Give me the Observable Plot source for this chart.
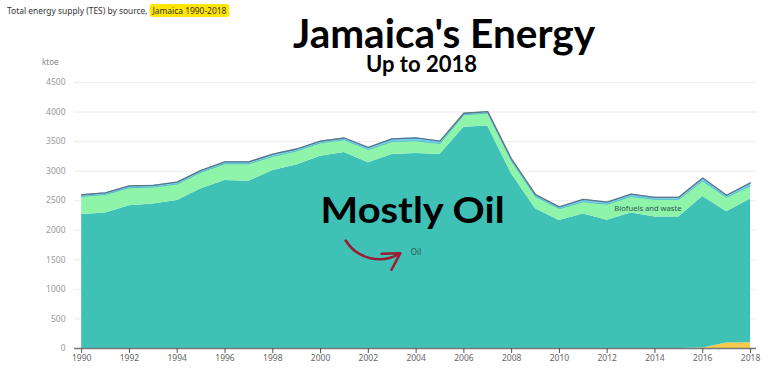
<!DOCTYPE html>
<html>
<head>
<meta charset="utf-8">
<script src="https://cdn.jsdelivr.net/npm/d3@7"></script>
<script src="https://cdn.jsdelivr.net/npm/@observablehq/plot@0.6"></script>
<style>
  html, body { margin: 0; padding: 0; background: #fff; }
  #wrap { position: relative; width: 768px; height: 375px; overflow: hidden; }
  #chart { position: absolute; left: 0; top: 0; }
  .abs { position: absolute; white-space: nowrap; transform-origin: left top; }
  #hdr { left: 7px; top: 5px; font: 9.5px "Noto Sans", sans-serif; color: #333; line-height: 12px; }
  #hdr .hl { background: #ffe600; border-radius: 3px; padding: 0 3px; }
  #t1 { font: 700 40px Lato, sans-serif; line-height: 34px; color: #000; }
  #t2 { font: 700 22px Lato, sans-serif; line-height: 18px; color: #000; }
  #ktoe { left: 42px; top: 56px; font: 8px "Noto Sans", sans-serif; color: #8a8a8a; }
</style>
</head>
<body>
<div id="wrap">
  <div id="chart"></div>
  <div id="hdr" class="abs"><span id="hdrA">Total energy supply (TES) by source,</span> <span class="hl" id="hdrB">Jamaica 1990-2018</span></div>
  <div id="t1" class="abs">Jamaica's Energy</div>
  <div id="t2" class="abs">Up to 2018</div>
  <div id="ktoe" class="abs">ktoe</div>
</div>
<script>
// ---- data (ktoe) ----
const years = [1990,1991,1992,1993,1994,1995,1996,1997,1998,1999,2000,2001,2002,2003,2004,2005,2006,2007,2008,2009,2010,2011,2012,2013,2014,2015,2016,2017,2018];
const sources = ["Natural gas", "Oil", "Biofuels and waste", "Hydro"];
const colors = ["#f7c948", "#40c1b6", "#8ef4aa", "#6ccff5"];
const naturalGas = [0,0,0,0,0,0,0,0,0,0,0,0,0,0,0,0,0,0,0,0,0,0,0,0,0,2,8,92,98];
const oil = [2269,2291,2417,2446,2503,2703,2840,2829,3011,3103,3251,3314,3143,3280,3297,3280,3743,3766,2950,2365,2165,2277,2171,2294,2224,2222,2563,2220,2432];
const biofuels = [302,315,303,285,280,280,286,297,240,240,229,217,223,223,217,189,211,217,220,206,200,206,270,277,300,300,264,247,223];
const hydro = [30,28,32,30,32,30,32,32,36,32,30,30,36,44,50,38,26,24,32,33,30,40,34,40,34,34,48,34,48];
const yTicks = [0,500,1000,1500,2000,2500,3000,3500,4000,4500];
const xTicks = [1990,1992,1994,1996,1998,2000,2002,2004,2006,2008,2010,2012,2014,2016,2018];
const labels = [
  {text: "Oil", year: 2003.78, value: 1582, size: 8},
  {text: "Biofuels and waste", year: 2012.3, value: 2326, size: 7.6}
];
const bigLabel = [{text: "Mostly Oil", year: 2000.0, value: 2131}];
const arrow = [{x1: 2001.05, y1: 1827, x2: 2003.34, y2: 1612}];

const series = [naturalGas, oil, biofuels, hydro];
const rows = years.flatMap((yr, i) => sources.map((s, j) => ({year: yr, source: s, value: series[j][i]})));
const greenTop = years.map((y, i) => naturalGas[i] + oil[i] + biofuels[i]);
const totals = years.map((y, i) => greenTop[i] + hydro[i]);

const chart = Plot.plot({
  width: 768, height: 375,
  marginTop: 82, marginBottom: 27, marginLeft: 74, marginRight: 12,
  x: {domain: [1989.7, 2018.25], axis: null},
  y: {domain: [0, 4500], axis: null},
  color: {domain: sources, range: colors},
  style: {fontFamily: "Noto Sans, sans-serif", background: "transparent", overflow: "visible"},
  marks: [
    Plot.ruleY(yTicks.filter(d => d > 0), {stroke: "#ececec", strokeWidth: 1}),
    Plot.areaY(rows, {x: "year", y: "value", z: "source", fill: "source", order: sources, curve: "linear"}),
    Plot.lineY(years, {x: d => d, y: (d, i) => greenTop[i], stroke: "#45a9dc", strokeWidth: 0.8}),
    Plot.lineY(years, {x: d => d, y: (d, i) => totals[i], stroke: "#5e7386", strokeWidth: 1.3}),
    Plot.ruleY([0], {stroke: "#777", strokeWidth: 1.5}),
    Plot.axisX(xTicks, {tickSize: 5, tickPadding: 1, tickFormat: d => String(d), stroke: "#555", fill: "#666", fontSize: 8.5, label: null}),
    Plot.axisY(yTicks, {tickSize: 0, tickPadding: 9, tickFormat: d => String(d), fill: "#999", fontSize: 8.5, label: null}),
    Plot.text(labels, {x: "year", y: "value", text: "text", fontSize: "size", textAnchor: "start", lineAnchor: "bottom", fill: "#2c5753"}),
    Plot.text(bigLabel, {x: "year", y: "value", text: "text", fontSize: 36, fontWeight: 700, fontFamily: "Lato, sans-serif", textAnchor: "start", lineAnchor: "bottom", fill: "#000", className: "big"}),
    Plot.arrow(arrow, {x1: "x1", y1: "y1", x2: "x2", y2: "y2", bend: -45, stroke: "#9c1c33", strokeWidth: 2.5, headLength: 12, inset: 0})
  ]
});
document.getElementById("chart").appendChild(chart);

// fit title texts to the reference widths
function place(id, left, top, w) {
  const el = document.getElementById(id);
  el.style.left = left + "px";
  el.style.top = top + "px";
  const r = el.getBoundingClientRect().width;
  el.style.transform = `scaleX(${w / r})`;
}
place("t1", 293, 16, 302);
place("t2", 366, 55, 111);
place("hdr", 7, 5, 222);
const big = chart.querySelector("g.big text, .big text");
if (big) { big.setAttribute("textLength", 184); big.setAttribute("lengthAdjust", "spacingAndGlyphs"); }
</script>
</body>
</html>
